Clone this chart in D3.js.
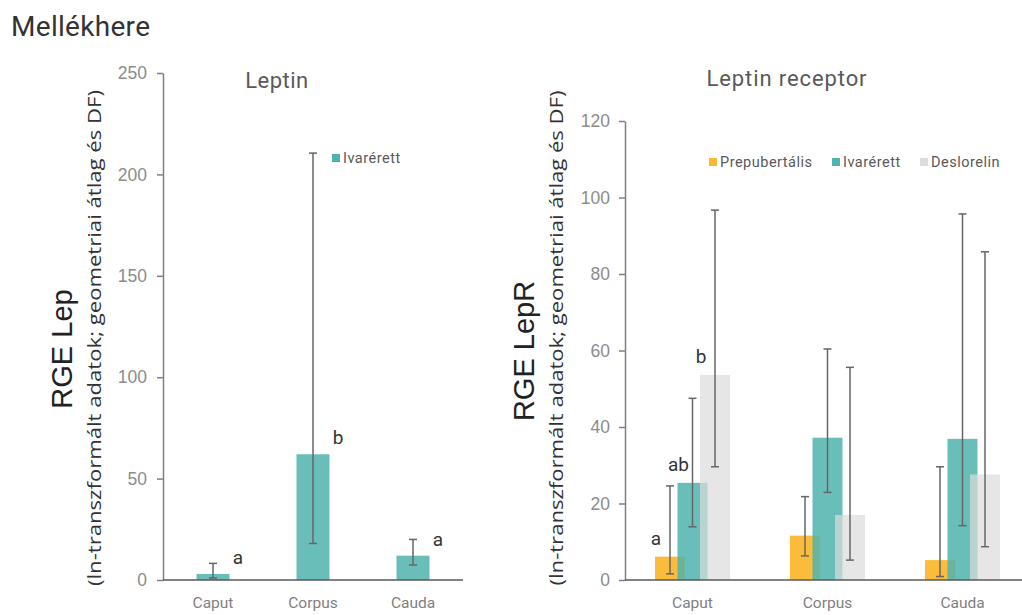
<!DOCTYPE html>
<html><head><meta charset="utf-8">
<script src="https://cdn.jsdelivr.net/npm/d3@7"></script>
<style>body{margin:0;background:#fff}svg{display:block}</style>
</head><body>
<svg id="c" width="1022" height="615"></svg>
<script>
const categories = ["Caput", "Corpus", "Cauda"];
// Leptin (Ivarérett only)
const lepMean = [3, 62, 12];
const lepLow = [1, 18, 7.4];
const lepHigh = [8.2, 210.5, 20];
const lepLetters = ["a", "b", "a"];
const lepTicks = [0, 50, 100, 150, 200, 250];
// Leptin receptor
const series = ["Prepubertális", "Ivarérett", "Deslorelin"];
const lepRPrep = [6.1, 11.6, 5.2];
const lepRPrepLow = [1.6, 6.3, 0.9];
const lepRPrepHigh = [24.6, 21.8, 29.6];
const lepRIvar = [25.4, 37.2, 36.9];
const lepRIvarLow = [13.9, 22.9, 14.2];
const lepRIvarHigh = [47.5, 60.4, 95.7];
const lepRDesl = [53.6, 17, 27.6];
const lepRDeslLow = [29.6, 5.2, 8.7];
const lepRDeslHigh = [96.7, 55.6, 85.8];
const lepRLetters = [["a", "ab", "b"], ["", "", ""], ["", "", ""]];
const lepRTicks = [0, 20, 40, 60, 80, 100, 120];

const colors = {"Prepubertális": "#fbb730", "Ivarérett": "#4fb3ae", "Deslorelin": "#dcdcdc"};
const opac = {"Prepubertális": 0.95, "Ivarérett": 0.85, "Deslorelin": 0.7};
const FONT = "Roboto, 'DejaVu Sans', sans-serif";
const AFONT = "'Liberation Sans', Arial, sans-serif";
const SFONT = "'Open Sans', 'Noto Sans', sans-serif";

const svg = d3.select("#c");
svg.append("text").attr("x", 11).attr("y", 36).attr("font-family", FONT)
  .attr("font-size", 28).attr("letter-spacing", 0.3).attr("fill", "#333").text("Mellékhere");

function errBar(g, x, y1, y2) {
  g.append("line").attr("x1", x).attr("x2", x).attr("y1", y1).attr("y2", y2);
  g.append("line").attr("x1", x - 4).attr("x2", x + 4).attr("y1", y1).attr("y2", y1);
  g.append("line").attr("x1", x - 4).attr("x2", x + 4).attr("y1", y2).attr("y2", y2);
}

function axes(x, y, ticks, x0, x1, yBase, pad) {
  const ya = svg.append("g").attr("transform", `translate(${x0},0)`)
    .call(d3.axisLeft(y).tickValues(ticks).tickSize(6).tickPadding(pad).tickSizeOuter(0));
  ya.select(".domain").attr("stroke", "#7f7f7f").attr("stroke-width", 1.5);
  ya.selectAll(".tick line").attr("stroke", "#7f7f7f").attr("stroke-width", 1.5);
  ya.selectAll(".tick text").attr("font-family", AFONT).attr("font-size", 17.5).attr("fill", "#8c8c8c");
  const xa = svg.append("g").attr("transform", `translate(0,${yBase})`)
    .call(d3.axisBottom(x).tickSize(0).tickPadding(17));
  xa.select(".domain").attr("stroke", "#595959").attr("stroke-width", 1.5)
    .attr("d", `M${x0},0H${x1}`);
  xa.selectAll(".tick text").attr("font-family", FONT).attr("font-size", 15.5).attr("fill", "#7f7f7f");
}

function yLabels(cx1, cx2, cy1, cy2, main, len) {
  svg.append("text").attr("transform", `translate(${cx1},${cy1}) rotate(-90)`)
    .attr("text-anchor", "middle").attr("dominant-baseline", "central")
    .attr("font-family", AFONT).attr("font-size", 29).attr("fill", "#222").text(main);
  svg.append("text").attr("transform", `translate(${cx2},${cy2}) rotate(-90)`)
    .attr("text-anchor", "middle").attr("dominant-baseline", "central")
    .attr("font-family", SFONT).attr("font-size", 19).attr("fill", "#333")
    .attr("textLength", len).attr("lengthAdjust", "spacingAndGlyphs")
    .text("(ln-transzformált adatok; geometriai átlag és DF)");
}

// ---------- Left chart ----------
{
  const x = d3.scaleBand().domain(categories).range([163, 463]).paddingInner(0).paddingOuter(0);
  const y = d3.scaleLinear().domain([0, 250]).range([580, 73]);
  const bw = 33;
  svg.append("g").selectAll("rect").data(categories).join("rect")
    .attr("x", (d) => x(d) + x.bandwidth() / 2 - bw / 2)
    .attr("width", bw)
    .attr("y", (d, i) => y(lepMean[i]))
    .attr("height", (d, i) => y(0) - y(lepMean[i]))
    .attr("fill", colors["Ivarérett"]).attr("fill-opacity", opac["Ivarérett"]);
  axes(x, y, lepTicks, 163, 463, 580, 10);
  const eg = svg.append("g").attr("stroke", "#666").attr("stroke-width", 1.5);
  categories.forEach((c, i) => errBar(eg, x(c) + x.bandwidth() / 2, y(lepHigh[i]), y(lepLow[i])));
  categories.forEach((c, i) => {
    svg.append("text").attr("x", x(c) + x.bandwidth() / 2 + 25)
      .attr("y", y(lepMean[i]) - 10).attr("text-anchor", "middle")
      .attr("font-family", FONT).attr("font-size", 19).attr("fill", "#333").text(lepLetters[i]);
  });
  svg.append("text").attr("x", 277).attr("y", 88).attr("text-anchor", "middle")
    .attr("font-family", FONT).attr("font-size", 22).attr("letter-spacing", 0.5)
    .attr("fill", "#595959").text("Leptin");
  svg.append("rect").attr("x", 332).attr("y", 154).attr("width", 8).attr("height", 8)
    .attr("fill", colors["Ivarérett"]);
  svg.append("text").attr("x", 343).attr("y", 163).attr("font-family", FONT)
    .attr("font-size", 14.5).attr("letter-spacing", 0.5).attr("fill", "#595959").text("Ivarérett");
  yLabels(62, 94, 349, 338, "RGE Lep", 496);
}

// ---------- Right chart ----------
{
  const x = d3.scaleBand().domain(categories).range([625, 1030]).paddingInner(0).paddingOuter(0);
  const y = d3.scaleLinear().domain([0, 120]).range([580, 121]);
  const bw = 30, step = 22.5;
  const data = [
    {s: "Prepubertális", m: lepRPrep, lo: lepRPrepLow, hi: lepRPrepHigh},
    {s: "Ivarérett", m: lepRIvar, lo: lepRIvarLow, hi: lepRIvarHigh},
    {s: "Deslorelin", m: lepRDesl, lo: lepRDeslLow, hi: lepRDeslHigh}
  ];
  const cx = (c, k) => x(c) + x.bandwidth() / 2 + (k - 1) * step;
  data.forEach((sr, k) => {
    svg.append("g").selectAll("rect").data(categories).join("rect")
      .attr("x", (c) => cx(c, k) - bw / 2).attr("width", bw)
      .attr("y", (c, i) => y(sr.m[i])).attr("height", (c, i) => y(0) - y(sr.m[i]))
      .attr("fill", colors[sr.s]).attr("fill-opacity", opac[sr.s]);
  });
  axes(x, y, lepRTicks, 625, 1022, 580, 9);
  const eg = svg.append("g").attr("stroke", "#666").attr("stroke-width", 1.5);
  data.forEach((sr, k) => categories.forEach((c, i) =>
    errBar(eg, cx(c, k), y(sr.hi[i]), y(sr.lo[i]))));
  lepRLetters.forEach((row, i) => row.forEach((l, k) => {
    if (!l) return;
    svg.append("text").attr("x", cx(categories[i], k) - 14)
      .attr("y", y(data[k].m[i]) - 12).attr("text-anchor", "middle")
      .attr("font-family", FONT).attr("font-size", 19).attr("fill", "#333").text(l);
  }));
  svg.append("text").attr("x", 787).attr("y", 86).attr("text-anchor", "middle")
    .attr("font-family", FONT).attr("font-size", 22).attr("letter-spacing", 0.9)
    .attr("fill", "#595959").text("Leptin receptor");
  const lx = [709, 832, 920];
  series.forEach((s, k) => {
    svg.append("rect").attr("x", lx[k]).attr("y", 158).attr("width", 8).attr("height", 8)
      .attr("fill", colors[s]);
    svg.append("text").attr("x", lx[k] + 11).attr("y", 167).attr("font-family", FONT)
      .attr("font-size", 14.5).attr("letter-spacing", 0.5).attr("fill", "#595959").text(s);
  });
  yLabels(524, 556, 351, 338, "RGE LepR", 495);
}
</script>
</body></html>
